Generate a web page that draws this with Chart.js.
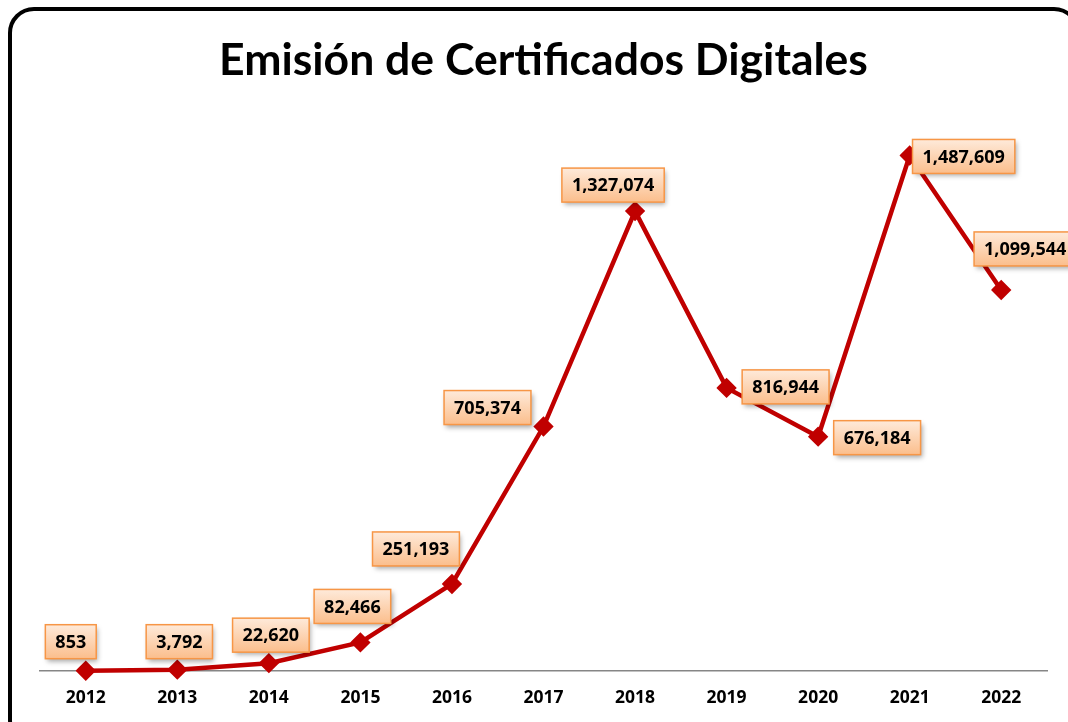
<!DOCTYPE html>
<html>
<head>
<meta charset="utf-8">
<script src="https://cdn.jsdelivr.net/npm/chart.js@4.4.0/dist/chart.umd.min.js"></script>
<style>
  html, body { margin: 0; padding: 0; width: 1068px; height: 722px; overflow: hidden; background: #fff; }
  #frame { position: absolute; left: 8px; top: 7px; width: 1072px; height: 740px; border: 4px solid #000; border-radius: 26px; box-sizing: border-box; }
  #wrap { position: absolute; left: 0; top: 0; width: 1068px; height: 740px; }
</style>
</head>
<body>
<div id="frame"></div>
<div id="wrap"><canvas id="c" width="1068" height="740"></canvas></div>
<script>
const years = ['2012','2013','2014','2015','2016','2017','2018','2019','2020','2021','2022'];
const certificados = [853, 3792, 22620, 82466, 251193, 705374, 1327074, 816944, 676184, 1487609, 1099544];
const chartTitle = 'Emisión de Certificados Digitales';

// label box offsets relative to each point (layout only)
const labelOffsets = [[-15,-29],[2,-28],[2,-28],[-8,-36],[-36,-35],[-56,-19],[-22,-26],[59,-1],[59,1],[54,1],[24,-41]];

const TITLE_FONT = "Lato, 'Open Sans', sans-serif";
const FONT = "'Open Sans', Lato, sans-serif";

const boxLabels = {
  id: 'boxLabels',
  afterDatasetsDraw(chart) {
    const ctx = chart.ctx;
    const meta = chart.getDatasetMeta(0);
    ctx.save();
    ctx.font = "bold 18px " + FONT;
    ctx.textAlign = 'center';
    ctx.textBaseline = 'middle';
    meta.data.forEach((pt, i) => {
      const txt = certificados[i].toLocaleString('en-US');
      const w = ctx.measureText(txt).width + 20;
      const h = 34;
      const cx = pt.x + labelOffsets[i][0];
      const cy = pt.y + labelOffsets[i][1];
      const x = cx - w / 2, y = cy - h / 2;
      ctx.save();
      ctx.shadowColor = 'rgba(0,0,0,0.35)';
      ctx.shadowBlur = 5;
      ctx.shadowOffsetX = 2;
      ctx.shadowOffsetY = 3;
      const g = ctx.createLinearGradient(0, y, 0, y + h);
      g.addColorStop(0, '#FEEADA');
      g.addColorStop(1, '#FBBE8C');
      ctx.fillStyle = g;
      ctx.fillRect(x, y, w, h);
      ctx.restore();
      ctx.strokeStyle = '#F79646';
      ctx.lineWidth = 1.5;
      ctx.strokeRect(x, y, w, h);
      ctx.fillStyle = '#000';
      ctx.fillText(txt, cx, cy + 1);
    });
    ctx.restore();
  }
};

new Chart(document.getElementById('c'), {
  type: 'line',
  data: {
    labels: years,
    datasets: [{
      data: certificados,
      borderColor: '#C00000',
      backgroundColor: '#C00000',
      borderWidth: 4.5,
      pointStyle: 'rectRot',
      pointRadius: 7,
      pointBackgroundColor: '#C00000',
      pointBorderColor: '#C00000',
      tension: 0,
      clip: false
    }]
  },
  options: {
    responsive: false,
    animation: false,
    layout: { padding: { left: 40, right: 21, top: 34, bottom: 14 } },
    plugins: {
      legend: { display: false },
      tooltip: { enabled: false },
      title: {
        display: true,
        text: chartTitle,
        color: '#000',
        font: { family: TITLE_FONT, size: 44.5, weight: 'bold' },
        padding: { top: 0, bottom: 35 }
      }
    },
    scales: {
      x: {
        offset: true,
        grid: { display: false, drawTicks: false },
        border: { display: true, color: '#868686', width: 1.5 },
        ticks: { color: '#000', padding: 17, font: { family: FONT, size: 17.5, weight: 'bold' } }
      },
      y: {
        display: false,
        min: 0,
        max: 1583000
      }
    }
  },
  plugins: [boxLabels]
});
</script>
</body>
</html>
